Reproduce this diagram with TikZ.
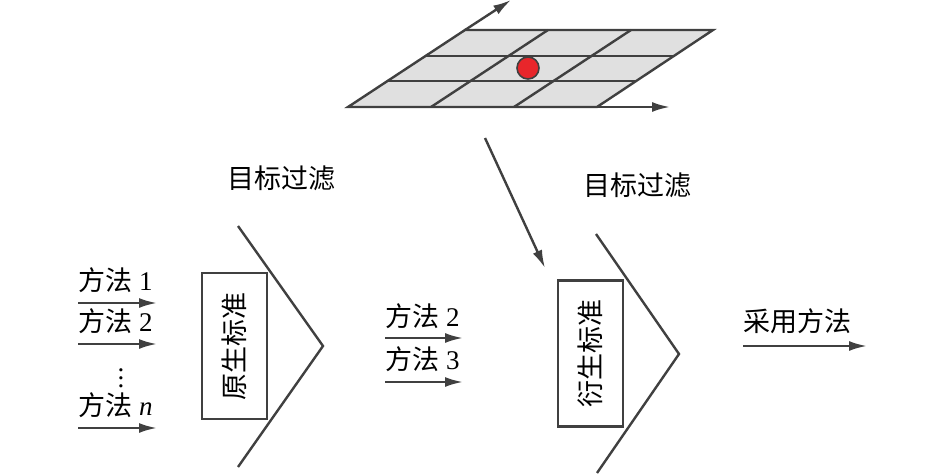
\documentclass[tikz,border=0pt]{standalone}
\usepackage{fontspec}
\setmainfont{Liberation Serif}
\newfontfamily\cjk{Noto Sans CJK SC}
\usetikzlibrary{arrows.meta}

\definecolor{linegray}{HTML}{404040}
\definecolor{cellgray}{HTML}{E0E0E0}
\definecolor{dotred}{HTML}{E8262B}

\tikzset{
	line/.style={draw=linegray, line width=1.2pt},
	flow/.style={line, -{Latex[length=9pt,width=5pt]}},
	txt/.style={inner sep=0pt, anchor=west, font=\fontsize{13.5}{16}\selectfont},
	critbox/.style={line, rotate=90, minimum width=73pt, minimum height=32.5pt,
		inner sep=0pt, font=\fontsize{13.5}{16}\selectfont\cjk},
}

\begin{document}
\begin{tikzpicture}[x=0.5pt, y=-0.5pt]
	
	\useasboundingbox (0, 0) rectangle (945, 475);
	
	% grid
	\filldraw[line, fill=cellgray] (348, 107) -- (597, 107) -- (713, 30) -- (465, 30) -- cycle;
	\draw[line] (387, 81) -- (636, 81);
	\draw[line] (426, 56) -- (675, 56);
	\draw[line] (431, 107) -- (548, 30);
	\draw[line] (514, 107) -- (631, 30);
	\node[circle, draw=linegray, line width=0.8pt, fill=dotred, minimum size=11pt, inner sep=0pt] (dot) at (528, 68) {};
	
	\coordinate (ax1s) at (465, 30);
	\coordinate (ax1e) at (511, 0);
	\coordinate (ax2s) at (597, 107);
	\coordinate (ax2e) at (670, 107);
	\coordinate (downs) at (485, 138);
	\coordinate (downe) at (545, 268);
	
	% filters
	\node[txt, anchor=center] (f1) at (281, 178) {\cjk 目标过滤};
	\node[txt, anchor=center] (f2) at (637, 185) {\cjk 目标过滤};
	\draw[line] (238, 226) -- (323, 346) -- (238, 467);
	\draw[line] (596, 234) -- (679, 354) -- (597, 473);
	\node[critbox] (c1) at (234.5, 346) {原生标准};
	\node[critbox] (c2) at (590.5, 353.5) {衍生标准};
	
	% methods
	\node[txt] (m1) at (78, 280) {{\cjk 方法} 1};
	\node[txt] (m2) at (78, 321) {{\cjk 方法} 2};
	\node[txt, anchor=center] (md) at (121, 372) {$\vdots$};
	\node[txt] (mn) at (78, 405) {{\cjk 方法} \textit{n}};
	\node[txt] (s2) at (385, 316) {{\cjk 方法} 2};
	\node[txt] (s3) at (385, 359) {{\cjk 方法} 3};
	\node[txt] (out) at (743, 321) {\cjk 采用方法};
	
	\coordinate (a1s) at (78, 303);
	\coordinate (a1e) at (157, 303);
	\coordinate (a2s) at (78, 344);
	\coordinate (a2e) at (157, 344);
	\coordinate (ans) at (78, 428);
	\coordinate (ane) at (157, 428);
	\coordinate (b2s) at (385, 338);
	\coordinate (b2e) at (463, 338);
	\coordinate (b3s) at (385, 382);
	\coordinate (b3e) at (463, 382);
	\coordinate (os) at (743, 346);
	\coordinate (oe) at (867, 346);
	
	\path (ax1s) edge[flow] (ax1e);
	\path (ax2s) edge[flow] (ax2e);
	\path (downs) edge[flow] (downe);
	\path (a1s) edge[flow] (a1e);
	\path (a2s) edge[flow] (a2e);
	\path (ans) edge[flow] (ane);
	\path (b2s) edge[flow] (b2e);
	\path (b3s) edge[flow] (b3e);
	\path (os) edge[flow] (oe);
	
\end{tikzpicture}
\end{document}
